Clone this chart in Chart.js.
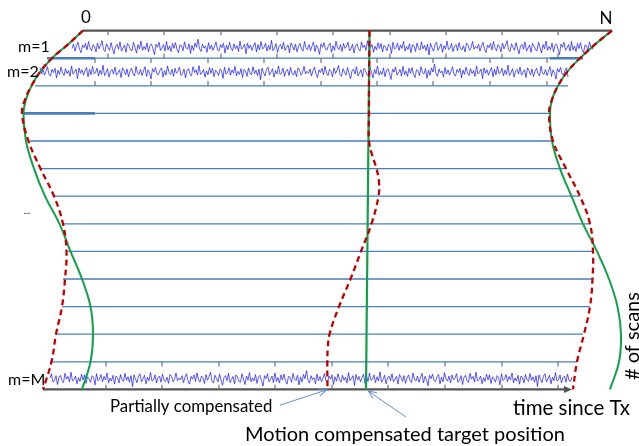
<!DOCTYPE html>
<html>
<head>
<meta charset="utf-8">
<script src="https://cdn.jsdelivr.net/npm/chart.js@4.4.1/dist/chart.umd.min.js"></script>
<style>
  html, body { margin: 0; padding: 0; background: #fff; }
  #wrap { width: 639px; height: 446px; position: relative; }
</style>
</head>
<body>
<div id="wrap"><canvas id="scans"></canvas></div>
<script>
// x: range sample since Tx (0 .. N), y: scan row (0 = first axis, 13 = last axis)
const N = 529;

// apparent target track per scan, true (green) and partially compensated (red)
const curveRows = [0, 0.5, 1, 1.5, 2, 2.5, 3, 4, 5, 6, 7, 8, 9, 10, 11, 12, 13];
const leftTrue  = [0, -15, -31, -43, -51.5, -57, -59.5, -57, -49, -38, -23.5, -12.5, -1, 7.5, 10, 7.5, -1];
const leftPart  = [0, -15, -31, -43, -51.5, -58, -61, -54.5, -42.5, -29, -20, -16.5, -18, -21, -27, -31.5, -40];
const rightTrue = [529, 512, 497, 484, 475, 469, 467, 469, 477, 488.5, 500, 514, 526, 534.5, 538, 536, 527];
const rightPart = [529, 512, 497, 484, 475, 469, 466, 470, 483, 497, 507, 510, 509.5, 507, 501, 494, 490];

const midRows = [0, 1, 2, 3, 4, 4.5, 5, 5.5, 6, 7, 8, 9, 10, 11, 11.5, 12, 13];
const midPart = [286.5, 286.3, 286, 286, 286, 289, 293.5, 296, 295.5, 288.5, 278, 267.5, 256, 246.5, 244.8, 244.3, 244.5];
const midTrueRows = [0, 13];
const midTrue = [286.5, 283];

// scan separators
const lineRows  = [1, 2, 3, 4, 5, 6, 7, 8, 9, 10, 11, 12];
const lineStart = [-36, -48, -59, -53, -43, -30, -20, -15, -20, -21, -26, -33];
const lineEnd   = [500, 485, 467, 470, 482, 497, 508, 510, 509, 507, 500, 494];

// heavier frame edges of the plotted scans
const frameRows  = [1, 1, 3];
const frameStart = [-36, 467, -59];
const frameEnd   = [12, 500, 12];

// tick positions of the three plotted scans
const ticksM1 = [25, 81, 138, 194, 250, 307, 363, 419, 475];
const ticksM2 = [12, 68, 125, 181, 238, 294, 350, 407, 464];
const ticksMM = [23, 79, 136, 192, 249, 305, 362, 419, 475];

// received echoes for m=1, m=2 and m=M
const traceRows   = [0.59, 1.49, 12.6];
const traceStart  = [-11, -43, -33];
const traceEnd    = [512, 485, 490];
const traceOffset = [0, 91, 183];
const echo = [
  4, -7, 11, -3, -12, 6, 15, -5, 2, -9,
  8, -14, 3, 10, -6, -1, 13, -10, 5, -4,
  -16, 7, 12, -8, 1, 9, -11, 4, 18, -2,
  -7, 6, -13, 11, 3, -5, 14, -9, -3, 8,
  10, -12, 2, 16, -6, 5, -15, 9, -1, 7,
  -10, 13, -4, -8, 6, 20, -7, 1, -12, 9,
  3, -6, 11, -14, 8, -2, 12, -9, 4, -11,
  7, 15, -5, -3, 10, -13, 2, 6, -8, 17,
  -4, 9, -10, 1, -20, 5, 12, -7, 3, -2,
  14, -11, 6, -5, 9, -1, -13, 8, 11, -6,
  2, -9, 16, -4, 7, -12, 3, 10, -8, 5,
  -3, 12, -15, 6, 1, -7, 18, -10, 4, -5,
  9, -2, -11, 13, -6, 8, -14, 5, 2, -9,
  11, -4, 7, -17, 10, 3, -8, 14, -1, -6,
  6, -12, 9, 2, -5, 15, -10, -3, 8, -7,
  13, -1, -9, 5, 11, -14, 4, 7, -6, 10,
  -2, -13, 12, -5, 3, 19, -8, 1, -11, 6,
  8, -4, -10, 14, -3, 9, -15, 2, 7, -6,
  12, -9, 4, -1, -12, 10, 5, -7, 16, -3,
  -8, 6, 11, -13, 2, -5, 9, -16, 7, 3,
  -6, 14, -2, 8, -11, 4, -9, 13, -4, 1,
  10, -7, -3, 17, -12, 6, 2, -10, 9, -5,
  4, -14, 11, -1, 7, -8, 15, -6, -2, 12,
  -10, 3, 8, -13, 5, -4, 10, -7, 21, -9,
  2, 11, -6, -12, 9, 1, -8, 14, -3, 6,
  -15, 7, 4, -9, 12, -2, -6, 10, -11, 5,
  8, -3, 13, -10, -5, 9, 3, -14, 6, -1
];
const echoScale = 0.014;   // rows per echo unit
const echoStep = 1.5;      // samples between plotted echo values

// axes
const bottomAxisStart = -40;
const bottomAxisEnd = 489;

// pointer arrows: [x0, y0, x1, y1]
const partialArrow = [197, 13.57, 243.5, 13.02];
const motionArrow  = [323, 14.0, 285.3, 13.06];

const pts = (xs, ys) => xs.map((x, i) => ({ x, y: ys[i] }));

function segments(list) {
  const out = [];
  list.forEach(([x0, y0, x1, y1]) => out.push({ x: x0, y: y0 }, { x: x1, y: y1 }, { x: x1, y: null }));
  return out;
}

function tickSegs(xs, row, dir) {
  const len = 0.17;
  return segments(xs.map(x => [x, row, x, row + dir * len]));
}

function trace(k) {
  const out = [];
  for (let i = 0, x = traceStart[k]; x <= traceEnd[k]; i++, x += echoStep) {
    out.push({ x, y: traceRows[k] + echo[(traceOffset[k] + i) % echo.length] * echoScale });
  }
  return out;
}

const RED = "#c00000";
const GREEN = "#12a04a";
const ROW_BLUE = "#4a7ebb";
const NOTE_BLUE = "#5b8fd0";
const ECHO_BLUE = "rgba(10,10,255,0.75)";

const line = (data, color, width, order, extra = {}) => Object.assign({
  data, showLine: true, borderColor: color, borderWidth: width, pointRadius: 0,
  fill: false, tension: 0, order, spanGaps: false
}, extra);

const datasets = [
  line(segments(lineRows.map((r, i) => [lineStart[i], r, lineEnd[i], r])), ROW_BLUE, 1.3, 9),
  line(segments(frameRows.map((r, i) => [frameStart[i], r, frameEnd[i], r])), ROW_BLUE, 2.6, 8),
  line([{ x: 0, y: 0 }, { x: N, y: 0 }], "#555555", 2.2, 8),
  line([{ x: bottomAxisStart, y: 13 }, { x: bottomAxisEnd - 4, y: 13 }], "#555555", 2.2, 8, { arrowHead: "filled", arrowTip: { x: bottomAxisEnd, y: 13 } }),
  line([].concat(
    tickSegs(ticksM1, 0, 1), tickSegs(ticksM1, 1, -1),
    tickSegs(ticksM2, 1, 1), tickSegs(ticksM2, 2, -1),
    tickSegs(ticksMM, 12, 1), tickSegs(ticksMM, 13, -1)
  ), "#6f6f6f", 1.2, 7),
  line(trace(0), ECHO_BLUE, 0.9, 6),
  line(trace(1), ECHO_BLUE, 0.9, 6),
  line(trace(2), ECHO_BLUE, 0.9, 6),
  line(pts(leftTrue, curveRows), GREEN, 2, 4, { tension: 0.4 }),
  line(pts(rightTrue, curveRows), GREEN, 2, 4, { tension: 0.4 }),
  line(pts(midTrue, midTrueRows), GREEN, 2.2, 4),
  line(pts(leftPart, curveRows), RED, 2.3, 3, { tension: 0.4, borderDash: [6, 4] }),
  line(pts(rightPart, curveRows), RED, 2.3, 3, { tension: 0.4, borderDash: [6, 4] }),
  line(pts(midPart, midRows), RED, 2.3, 3, { tension: 0.4, borderDash: [6, 4] }),
  line(pts([partialArrow[0], partialArrow[2]], [partialArrow[1], partialArrow[3]]), NOTE_BLUE, 1, 2, { arrowHead: "open" }),
  line(pts([motionArrow[0], motionArrow[2]], [motionArrow[1], motionArrow[3]]), NOTE_BLUE, 1, 2, { arrowHead: "open" })
];

// text placed in data units
const notes = [
  { text: "0", x: 3, y: -0.49, size: 17, align: "center" },
  { text: "N", x: 523, y: -0.42, size: 17, align: "center" },
  { text: "m=1", x: -65, y: 0.59, size: 16, align: "left" },
  { text: "m=2", x: -76, y: 1.5, size: 16, align: "left" },
  { text: "m=M", x: -75, y: 12.66, size: 16, align: "left" },
  { text: "...", x: -56, y: 6.55, size: 9, align: "center" },
  { text: "Partially compensated", x: 27, y: 13.62, size: 16.8, align: "left" },
  { text: "time since Tx", x: 430, y: 13.67, size: 20.5, align: "left" },
  { text: "Motion compensated target position", x: 162, y: 14.65, size: 20, align: "left" },
  { text: "# of scans", x: 556, y: 12.66, size: 20, align: "left", rotate: -90, baseline: "alphabetic" }
];

const notesPlugin = {
  id: "notes",
  afterDraw(chart) {
    const { ctx, scales: { x, y } } = chart;
    ctx.save();
    ctx.fillStyle = "#000";
    notes.forEach(n => {
      ctx.save();
      ctx.font = `${n.size}px Lato, "Open Sans", sans-serif`;
      ctx.textAlign = n.align;
      ctx.textBaseline = n.baseline || "middle";
      ctx.translate(x.getPixelForValue(n.x), y.getPixelForValue(n.y));
      if (n.rotate) ctx.rotate(n.rotate * Math.PI / 180);
      ctx.fillText(n.text, 0, 0);
      ctx.restore();
    });
    ctx.restore();
  }
};

const arrowPlugin = {
  id: "arrows",
  afterDatasetsDraw(chart) {
    const { ctx, scales: { x, y } } = chart;
    chart.data.datasets.forEach((ds, i) => {
      if (!ds.arrowHead) return;
      const pts = chart.getDatasetMeta(i).data;
      const a = pts[pts.length - 2], b = pts[pts.length - 1];
      let tx = b.x, ty = b.y;
      if (ds.arrowTip) { tx = x.getPixelForValue(ds.arrowTip.x); ty = y.getPixelForValue(ds.arrowTip.y); }
      const ang = Math.atan2(ty - a.y, tx - a.x);
      ctx.save();
      ctx.translate(tx, ty);
      ctx.rotate(ang);
      if (ds.arrowHead === "filled") {
        ctx.fillStyle = ds.borderColor;
        ctx.beginPath();
        ctx.moveTo(0, 0);
        ctx.lineTo(-8, -3.5);
        ctx.lineTo(-8, 3.5);
        ctx.closePath();
        ctx.fill();
      } else {
        ctx.strokeStyle = ds.borderColor;
        ctx.lineWidth = 1;
        ctx.beginPath();
        ctx.moveTo(-8, -3.5);
        ctx.lineTo(0, 0);
        ctx.lineTo(-8, 3.5);
        ctx.stroke();
      }
      ctx.restore();
    });
  }
};

new Chart(document.getElementById("scans"), {
  type: "scatter",
  data: { datasets },
  options: {
    responsive: true,
    maintainAspectRatio: false,
    animation: false,
    events: [],
    layout: { padding: 0 },
    plugins: { legend: { display: false }, tooltip: { enabled: false } },
    scales: {
      x: { type: "linear", display: false, min: -83, max: 556 },
      y: { type: "linear", display: false, min: -1.1087, max: 15.0507, reverse: true }
    }
  },
  plugins: [notesPlugin, arrowPlugin]
});
</script>
</body>
</html>
